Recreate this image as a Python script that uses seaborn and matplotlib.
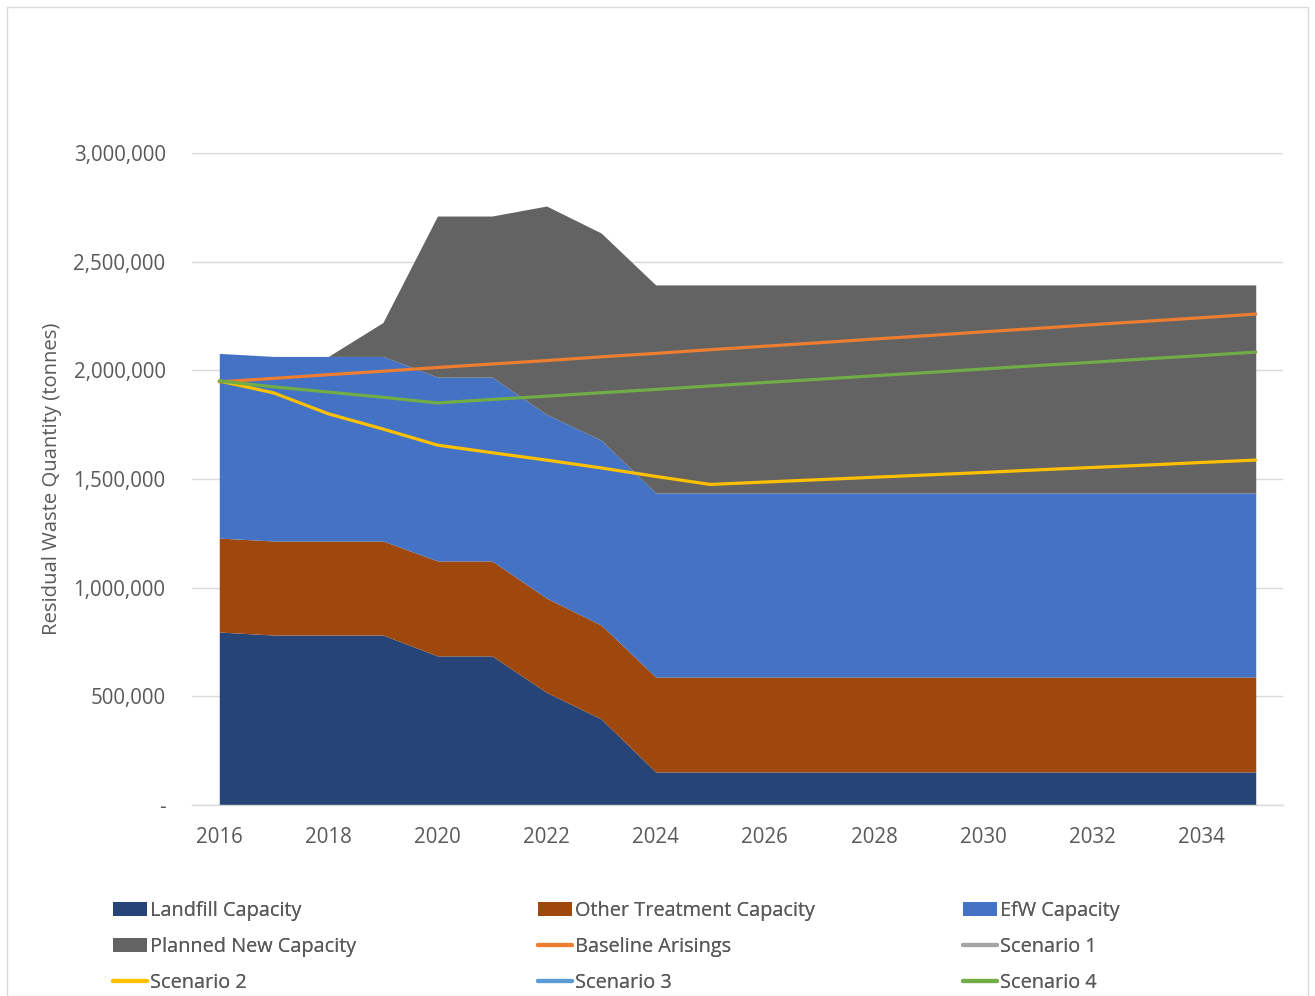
import matplotlib
matplotlib.use("Agg")
import matplotlib.pyplot as plt
import matplotlib.ticker as mticker
from matplotlib.patches import Patch, Rectangle
from matplotlib.lines import Line2D
import seaborn as sns
import pandas as pd
import numpy as np

years = list(range(2016, 2036))

landfill = [796000, 782000, 782000, 782000, 686000, 686000, 518000, 396000, 152000, 152000,
            152000, 152000, 152000, 152000, 152000, 152000, 152000, 152000, 152000, 152000]
other = [432000, 433000, 433000, 433000, 437000, 437000, 434000, 432000, 437000, 437000,
         437000, 437000, 437000, 437000, 437000, 437000, 437000, 437000, 437000, 437000]
efw = [850000, 849000, 849000, 849000, 846000, 846000, 845000, 851000, 847000, 847000,
       847000, 847000, 847000, 847000, 847000, 847000, 847000, 847000, 847000, 847000]
planned = [0, 0, 0, 156000, 741000, 741000, 959000, 953000, 957000, 957000,
           957000, 957000, 957000, 957000, 957000, 957000, 957000, 957000, 957000, 957000]

baseline = [1947000, 1963000, 1980000, 1996000, 2013000, 2029000, 2045000, 2062000, 2078000, 2095000,
            2111000, 2127000, 2144000, 2160000, 2177000, 2193000, 2210000, 2226000, 2242000, 2259000]
scenario1 = [np.nan] * 20
scenario2 = [1951000, 1896000, 1800000, 1730000, 1656000, 1621000, 1587000, 1551000, 1512000, 1475000,
             1486000, 1497000, 1508000, 1519000, 1530000, 1542000, 1553000, 1564000, 1576000, 1587000]
scenario3 = [np.nan] * 20
scenario4 = [1951000, 1924000, 1900000, 1876000, 1850000, 1866000, 1881000, 1897000, 1912000, 1928000,
             1944000, 1959000, 1975000, 1990000, 2006000, 2022000, 2037000, 2053000, 2068000, 2084000]

area_names = ["Landfill Capacity", "Other Treatment Capacity", "EfW Capacity", "Planned New Capacity"]
area_colors = ["#264478", "#9E480E", "#4472C4", "#636363"]
line_names = ["Baseline Arisings", "Scenario 1", "Scenario 2", "Scenario 3", "Scenario 4"]
line_colors = ["#ED7D31", "#A5A5A5", "#FFC000", "#5B9BD5", "#70AD47"]

sns.set_theme(style="white")
plt.rcParams['font.family'] = ['Open Sans', 'DejaVu Sans']

W, H = 1315, 996
fig = plt.figure(figsize=(W / 100, H / 100), dpi=100)
ax = fig.add_axes([192 / W, 1 - 805 / H, (1283 - 192) / W, (805 - 153) / H])

ax.stackplot(years, landfill, other, efw, planned, colors=area_colors, linewidth=0, zorder=2)

df = pd.DataFrame({"Year": years, "Baseline Arisings": baseline, "Scenario 1": scenario1,
                   "Scenario 2": scenario2, "Scenario 3": scenario3, "Scenario 4": scenario4})
long = df.melt(id_vars="Year", var_name="Series", value_name="Value").dropna()
sns.lineplot(data=long, x="Year", y="Value", hue="Series",
             hue_order=[n for n in line_names if n in long["Series"].unique()],
             palette=dict(zip(line_names, line_colors)), linewidth=2.3, legend=False, ax=ax, zorder=3)

ax.set_xlim(2015.5, 2035.5)
ax.set_ylim(0, 3000000)
ax.set_yticks(np.arange(0, 3000001, 500000))
ax.yaxis.set_major_formatter(mticker.FuncFormatter(lambda v, p: "-" if v == 0 else f"{int(v):,}"))
ax.set_xticks(list(range(2016, 2036, 2)))
ax.grid(axis="y", color="#D9D9D9", linewidth=1, zorder=0)
ax.set_axisbelow(True)
for s in ["top", "right", "left"]:
    ax.spines[s].set_visible(False)
ax.spines["bottom"].set_color("#D9D9D9")
ax.spines["bottom"].set_linewidth(1)
ax.tick_params(axis="y", length=0, pad=19, labelsize=14.8, labelcolor="#595959")
ax.tick_params(axis="x", length=0, pad=16, labelsize=14.8, labelcolor="#595959")
ax.set_xlabel("")
ax.set_ylabel("Residual Waste Quantity (tonnes)", fontsize=14.6, color="#595959", labelpad=8)

# legend: Excel row-major order laid out as three columns
handles = {}
for n, c in zip(area_names, area_colors):
    handles[n] = Patch(facecolor=c, edgecolor="none")
for n, c in zip(line_names, line_colors):
    handles[n] = Line2D([0], [0], color=c, linewidth=3)
order = area_names + line_names
cols = [order[0::3], order[1::3], order[2::3]]
xs = [113, 538, 963]
for col, x0 in zip(cols, xs):
    leg = fig.legend([handles[n] for n in col], col, loc="upper left",
                     bbox_to_anchor=(x0 / W, 1 - 901 / H), bbox_transform=fig.transFigure,
                     frameon=False, fontsize=14.3, labelcolor="#595959",
                     handlelength=1.7, handleheight=0.7, handletextpad=0.15,
                     labelspacing=0.8, borderpad=0, borderaxespad=0)
    fig.add_artist(leg)

fig.patches.append(Rectangle((7 / W, 0), (1308 - 7) / W, 1 - 7 / H, transform=fig.transFigure,
                             fill=False, edgecolor="#D9D9D9", linewidth=1))

fig.savefig("out.png", dpi=100)
